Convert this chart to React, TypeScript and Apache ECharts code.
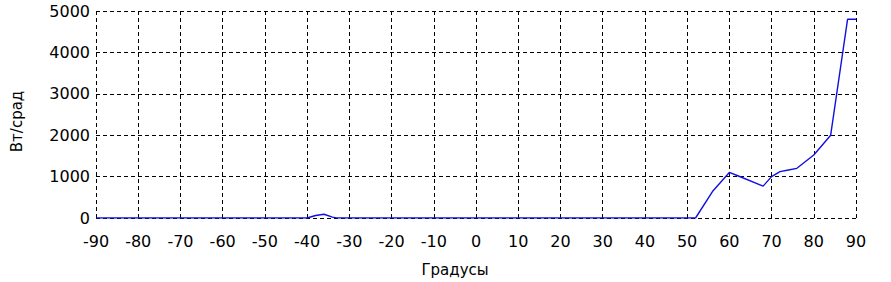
import React, { useEffect, useRef } from "react";
import * as echarts from "echarts";

const degrees = [-90, -40, -38, -36, -34, -33, 52, 56, 60, 62, 68, 70, 72, 74, 76, 80, 84, 88, 90];
const watts = [0, 0, 60, 90, 20, 0, 0, 640, 1100, 1020, 770, 1000, 1120, 1160, 1200, 1520, 2000, 4800, 4800];
const xAxisTitle = "Градусы";
const yAxisTitle = "Вт/срад";

export default function App() {
  const ref = useRef<HTMLDivElement>(null);
  useEffect(() => {
    if (!ref.current) return;
    const chart = echarts.init(ref.current, null, { renderer: "svg" });
    const font = "DejaVu Sans";
    chart.setOption({
      animation: false,
      backgroundColor: "#ffffff",
      grid: { left: 96, right: 35, top: 11, bottom: 64 },
      xAxis: {
        type: "value",
        min: -90,
        max: 90,
        interval: 10,
        name: xAxisTitle,
        nameLocation: "middle",
        nameGap: 44,
        nameTextStyle: { color: "#000", fontFamily: font, fontSize: 15, padding: [0, 42, 0, 0] },
        axisLine: { show: false },
        axisTick: { show: false },
        axisLabel: { color: "#000", fontFamily: font, fontSize: 16, margin: 15 },
        splitLine: { show: true, lineStyle: { color: "#000", type: [4, 3], width: 1 } },
      },
      yAxis: {
        type: "value",
        min: 0,
        max: 5000,
        interval: 1000,
        name: yAxisTitle,
        nameLocation: "middle",
        nameGap: 72,
        nameRotate: 90,
        nameTextStyle: { color: "#000", fontFamily: font, fontSize: 15, padding: [0, 14, 0, 0] },
        axisLine: { show: false },
        axisTick: { show: false },
        axisLabel: { color: "#000", fontFamily: font, fontSize: 16, margin: 6, formatter: (v: number) => String(v) },
        splitLine: { show: true, lineStyle: { color: "#000", type: [4, 3], width: 1 } },
      },
      series: [
        {
          type: "line",
          data: degrees.map((d, i) => [d, watts[i]]),
          showSymbol: false,
          lineStyle: { color: "#1010e0", width: 1.4 },
          z: 3,
        },
      ],
    });
    return () => chart.dispose();
  }, []);
  return (
    <div
      ref={ref}
      style={{ position: "fixed", left: 0, top: 0, width: 891, height: 282, background: "#fff" }}
    />
  );
}
